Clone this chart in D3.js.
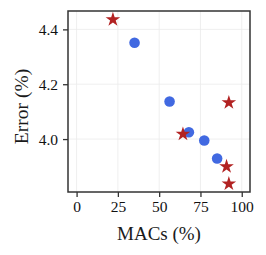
<!DOCTYPE html>
<html>
<head>
<meta charset="utf-8">
<script src="https://cdn.jsdelivr.net/npm/d3@7"></script>
<style>
  body { margin: 0; background: #fff; }
  text { font-family: "Liberation Serif", "Times New Roman", serif; fill: #1a1a1a; }
</style>
</head>
<body>
<svg width="266" height="255"></svg>
<script>
//data
const circleMacs = [35.1, 56.3, 68.0, 77.3, 85.1];
const circleErr = [4.351, 4.137, 4.025, 3.995, 3.929];
const starMacs = [22.0, 92.2, 64.4, 90.8, 92.2];
const starErr = [4.436, 4.133, 4.018, 3.900, 3.837];
const xTicks = [0, 25, 50, 75, 100];
const yTicks = [4.0, 4.2, 4.4];

//set up
const svg = d3.select('svg');
const margin = {left: 68, right: 16, top: 11, bottom: 63};
const w = 266 - margin.left - margin.right;
const h = 255 - margin.top - margin.bottom;

const x = d3.scaleLinear().domain([-5.2, 105]).range([0, w]);
const y = d3.scaleLinear().domain([3.807, 4.467]).range([h, 0]);

const g = svg.append('g').attr('transform', `translate(${margin.left},${margin.top})`);

//grid
g.selectAll('.vgrid')
  .data(xTicks)
  .join('line')
  .attr('x1', d => x(d)).attr('x2', d => x(d))
  .attr('y1', 0).attr('y2', h)
  .style('stroke', '#ebebeb').style('stroke-width', 0.8);

g.selectAll('.hgrid')
  .data(yTicks)
  .join('line')
  .attr('y1', d => y(d)).attr('y2', d => y(d))
  .attr('x1', 0).attr('x2', w)
  .style('stroke', '#ebebeb').style('stroke-width', 0.8);

//axes
const xAxis = g.append('g')
  .attr('transform', `translate(0,${h})`)
  .call(d3.axisBottom(x).tickValues(xTicks).tickSize(5).tickPadding(4));
const yAxis = g.append('g')
  .call(d3.axisLeft(y).tickValues(yTicks).tickFormat(d3.format('.1f')).tickSize(5).tickPadding(5));

[xAxis, yAxis].forEach(a => {
  a.attr('font-family', null);
  a.select('.domain').remove();
  a.selectAll('.tick line').style('stroke', '#333').style('stroke-width', 1.3);
  a.selectAll('.tick text')
    .style('font-family', '"Liberation Serif", serif')
    .style('font-size', '15.5px')
    .style('fill', '#111');
});

//frame
g.append('rect')
  .attr('width', w).attr('height', h)
  .style('fill', 'none').style('stroke', '#333').style('stroke-width', 1.5);

//circles
g.selectAll('circle')
  .data(circleMacs)
  .join('circle')
  .attr('cx', d => x(d))
  .attr('cy', (d, i) => y(circleErr[i]))
  .attr('r', 5.3)
  .style('fill', '#4169e1');

//stars
const star = d3.symbol().type(d3.symbolStar).size(66);
g.selectAll('.star')
  .data(starMacs)
  .join('path')
  .attr('class', 'star')
  .attr('d', star)
  .attr('transform', (d, i) => `translate(${x(d)},${y(starErr[i])})`)
  .style('fill', '#b22222');

//labels
svg.append('text')
  .attr('x', margin.left + w / 2)
  .attr('y', 240)
  .attr('text-anchor', 'middle')
  .style('font-size', '19px')
  .text('MACs (%)');

svg.append('text')
  .attr('transform', `translate(28,${margin.top + h / 2 + 5}) rotate(-90)`)
  .attr('text-anchor', 'middle')
  .style('font-size', '19.5px')
  .text('Error (%)');
</script>
</body>
</html>
